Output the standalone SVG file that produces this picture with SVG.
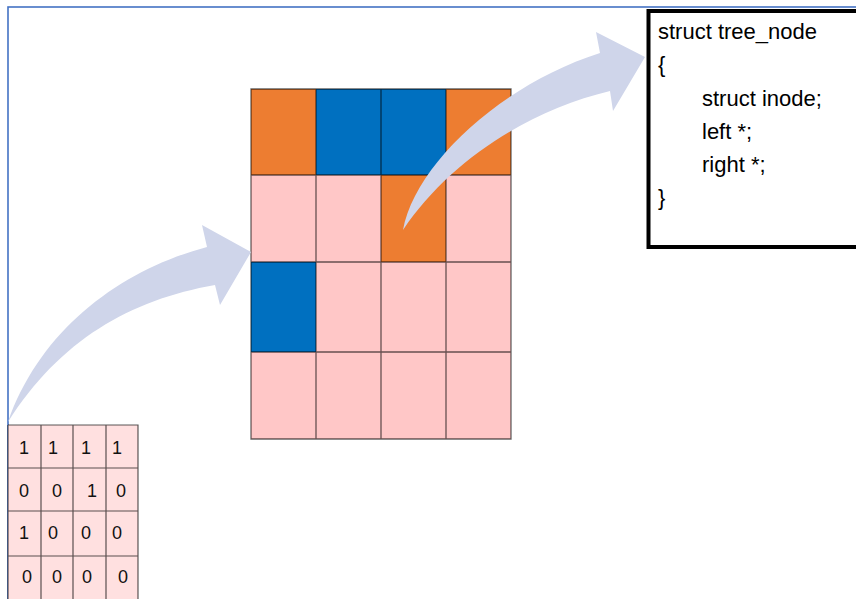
<svg xmlns="http://www.w3.org/2000/svg" width="856" height="599" viewBox="0 0 856 599">
<style>
.o{fill:#ED7D31}.b{fill:#0070C0}.p{fill:#FFC7C7}
.gl{stroke:#000;stroke-opacity:0.6;stroke-width:1.3;fill:none}
.sl{stroke:#000;stroke-opacity:0.65;stroke-width:1.2;fill:none}
.d{font-family:"Liberation Sans",Arial,sans-serif;font-size:18px;fill:#111;text-anchor:middle}
.c{font-family:"Liberation Sans",Arial,sans-serif;font-size:22px;fill:#000}
.arr{fill:#CFD5EA}
</style>
<rect id="frame" x="8" y="7" width="860" height="600" fill="#fff" stroke="#4472C4" stroke-width="1.6"/>
<g id="big-grid">
<rect class="o" x="251" y="89" width="65" height="86"/>
<rect class="b" x="316" y="89" width="65" height="86"/>
<rect class="b" x="381" y="89" width="65" height="86"/>
<rect class="o" x="446" y="89" width="65" height="86"/>
<rect class="p" x="251" y="175" width="65" height="87"/>
<rect class="p" x="316" y="175" width="65" height="87"/>
<rect class="o" x="381" y="175" width="65" height="87"/>
<rect class="p" x="446" y="175" width="65" height="87"/>
<rect class="b" x="251" y="262" width="65" height="90"/>
<rect class="p" x="316" y="262" width="65" height="90"/>
<rect class="p" x="381" y="262" width="65" height="90"/>
<rect class="p" x="446" y="262" width="65" height="90"/>
<rect class="p" x="251" y="352" width="260" height="87"/>
<path class="gl" d="M251,89H511V439H251Z M316,89V439 M381,89V439 M446,89V439 M251,175H511 M251,262H511 M251,352H511"/>
</g>
<g id="small-grid">
<rect x="8" y="425" width="130" height="180" fill="#FFE0E0"/>
<path class="sl" d="M8,425H138V605 M8,425V605 M41,425V605 M73,425V605 M106,425V605 M8,468H138 M8,511H138 M8,556H138"/>
<text class="d" x="24" y="454">1</text><text class="d" x="53" y="454">1</text><text class="d" x="86" y="454">1</text><text class="d" x="117" y="454">1</text>
<text class="d" x="24" y="497">0</text><text class="d" x="57" y="497">0</text><text class="d" x="92" y="497">1</text><text class="d" x="121" y="497">0</text>
<text class="d" x="24" y="539">1</text><text class="d" x="53" y="539">0</text><text class="d" x="86" y="539">0</text><text class="d" x="117" y="539">0</text>
<text class="d" x="27" y="583">0</text><text class="d" x="57" y="583">0</text><text class="d" x="87" y="583">0</text><text class="d" x="123" y="583">0</text>
</g>
<g id="code-box">
<rect x="648.5" y="11" width="220" height="236" fill="#fff" stroke="#000" stroke-width="4"/>
<text class="c" x="658" y="39">struct tree_node</text>
<text class="c" x="658" y="72">{</text>
<text class="c" x="702" y="106">struct inode;</text>
<text class="c" x="702" y="139">left *;</text>
<text class="c" x="702" y="172">right *;</text>
<text class="c" x="658" y="205">}</text>
</g>
<g id="connectors">
<path class="arr" d="M8,422 C40,330 120,270 207,247 L202,225 L251,252 L220,305 L215,285 C130,300 60,340 8,422 Z"/>
<path class="arr" d="M403,230 C415,165 500,85 600,53 L596,32 L645,57 L613,111 L610,91 C530,110 450,160 403,230 Z"/>
</g>
</svg>
